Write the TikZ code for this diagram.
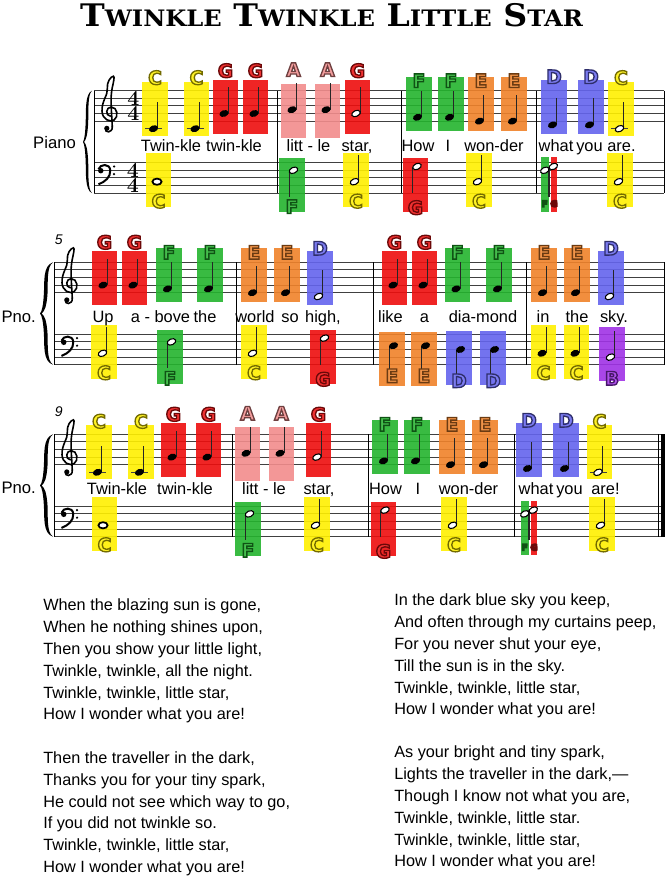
\documentclass[tikz,border=0pt]{standalone}
\usepackage{fontspec}
\usepackage{xcolor}
\usepackage{tikz}
\usepackage{graphicx}

\newfontfamily\lyricfont{Liberation Sans}
\newfontfamily\labelfont{DejaVu Sans}
\newfontfamily\titlefont{DejaVu Serif}

\definecolor{noteC}{RGB}{255,240,0}
\definecolor{noteD}{RGB}{100,100,238}
\definecolor{noteE}{RGB}{240,130,42}
\definecolor{noteF}{RGB}{36,180,46}
\definecolor{noteG}{RGB}{238,14,14}
\definecolor{noteA}{RGB}{242,140,140}
\definecolor{noteB}{RGB}{160,50,230}
% rim colours of the letters, as pdf rgb
\newcommand\edgeC{0.45 0.42 0}
\newcommand\edgeD{0.18 0.18 0.42}
\newcommand\edgeE{0.42 0.23 0.07}
\newcommand\edgeF{0.06 0.32 0.08}
\newcommand\edgeG{0.42 0.03 0.03}
\newcommand\edgeA{0.43 0.25 0.25}
\newcommand\edgeB{0.28 0.09 0.41}

% treble data: head y, box top, label y (px below top staff line)
\newcommand\trebHeadC{38}   \newcommand\trebTopC{-9}  \newcommand\trebLabC{-13} \newcommand\trebLedC{1}
\newcommand\trebHeadD{34.2} \newcommand\trebTopD{-11} \newcommand\trebLabD{-14} \newcommand\trebLedD{0}
\newcommand\trebHeadE{30.4} \newcommand\trebTopE{-14} \newcommand\trebLabE{-10} \newcommand\trebLedE{0}
\newcommand\trebHeadF{26.6} \newcommand\trebTopF{-14} \newcommand\trebLabF{-10} \newcommand\trebLedF{0}
\newcommand\trebHeadG{22.8} \newcommand\trebTopG{-11} \newcommand\trebLabG{-20} \newcommand\trebLedG{0}
\newcommand\trebHeadA{19}   \newcommand\trebTopA{-7}  \newcommand\trebLabA{-21} \newcommand\trebLedA{0}
% bass data: head y, box top, label y, stem direction
\newcommand\bassHeadC{91}   \newcommand\bassTopC{62.5} \newcommand\bassLabC{110.5} \newcommand\bassDirC{1}
\newcommand\bassHeadD{87.2} \newcommand\bassTopD{68.7} \newcommand\bassLabD{118.5} \newcommand\bassDirD{-1}
\newcommand\bassHeadE{83.4} \newcommand\bassTopE{69.7} \newcommand\bassLabE{113.5} \newcommand\bassDirE{-1}
\newcommand\bassHeadF{79.6} \newcommand\bassTopF{67.5} \newcommand\bassLabF{116}   \newcommand\bassDirF{-1}
\newcommand\bassHeadG{75.8} \newcommand\bassTopG{67.5} \newcommand\bassLabG{117}   \newcommand\bassDirG{-1}
\newcommand\bassHeadB{94.8} \newcommand\bassTopB{64.7} \newcommand\bassLabB{116}   \newcommand\bassDirB{1}

\tikzset{
  staffline/.style={gray!50!black, line width=0.75pt},
  barline/.style={black, line width=0.75pt},
  stemline/.style={black!85, line width=0.8pt},
  notebox/.style={opacity=0.9},
  letterbase/.style={inner sep=0pt, font=\labelfont\bfseries\fontsize{14}{14}\selectfont},
  tinyletter/.style={inner sep=0pt, font=\labelfont\bfseries\fontsize{6.5}{6.5}\selectfont},
  lyric/.style={inner sep=0pt, anchor=base, font=\lyricfont\fontsize{12.3}{12.3}\selectfont},
  verse/.style={inner sep=0pt, anchor=base west, font=\lyricfont\fontsize{12.2}{12.2}\selectfont},
  instr/.style={inner sep=0pt, font=\lyricfont\fontsize{12.5}{12.5}\selectfont},
  barnum/.style={inner sep=0pt, font=\lyricfont\itshape\fontsize{10.5}{10.5}\selectfont},
  tsig/.style={inner sep=0pt, align=center, font=\fontsize{16}{11.4}\selectfont\bfseries},
  gclef/.pic={
    \begin{scope}[xscale=7.6, yscale=-7.6, line width=1.2pt, line cap=round]
      \draw (0.3,-1.75) .. controls (0.2,0.5) and (0.0,2.0) .. (0.3,3.4)
        .. controls (0.45,4.1) and (0.65,4.9) .. (0.45,4.9)
        .. controls (0.1,4.9) and (-0.45,4.1) .. (-0.35,3.3)
        .. controls (-0.25,2.4) and (-1.1,1.7) .. (-1.05,0.3)
        .. controls (-1.0,-0.8) and (0.0,-1.2) .. (0.55,-0.85)
        .. controls (1.15,-0.45) and (1.0,0.85) .. (0.15,0.85)
        .. controls (-0.55,0.85) and (-0.65,-0.3) .. (0.05,-0.35);
      \draw (0.3,-1.75) .. controls (0.35,-2.6) and (-0.75,-2.6) .. (-0.6,-1.95);
      \fill (-0.42,-1.95) circle (0.34);
    \end{scope}
  },
  fclef/.pic={
    \begin{scope}[xscale=7.6, yscale=-7.6]
      \fill (0.1,-0.05) circle (0.36);
      \draw[line width=1.5pt] (-0.2,0.15) .. controls (0.0,0.85) and (1.3,0.95) .. (1.35,0.0)
        .. controls (1.4,-0.9) and (0.7,-1.5) .. (-0.2,-1.85);
      \fill (1.85,0.5) circle (0.16) (1.85,-0.5) circle (0.16);
    \end{scope}
  }
}

\newcounter{notecount}

\newcommand{\staves}[2]{%
  \foreach \k in {0,...,4} {
    \draw[staffline] (#1,{7.6*\k}) -- (#2,{7.6*\k});
    \draw[staffline] (#1,{72+7.6*\k}) -- (#2,{72+7.6*\k});
  }%
}

\newcommand{\grandbrace}[2]{%
  \begin{scope}[shift={(#1,0)}, xscale=#2, yscale=102.4]
    \fill (1,0) .. controls (0.2,0.03) and (0.35,0.2) .. (0.3,0.3)
      .. controls (0.25,0.42) and (0.15,0.48) .. (0,0.5)
      .. controls (0.15,0.52) and (0.25,0.58) .. (0.3,0.7)
      .. controls (0.35,0.8) and (0.2,0.97) .. (1,1)
      .. controls (0.5,0.96) and (0.62,0.8) .. (0.58,0.7)
      .. controls (0.52,0.57) and (0.35,0.52) .. (0.12,0.5)
      .. controls (0.35,0.48) and (0.52,0.43) .. (0.58,0.3)
      .. controls (0.62,0.2) and (0.5,0.04) .. (1,0) -- cycle;
  \end{scope}%
}

\newcommand{\stemq}[3]{\draw[stemline] (#1,#2) -- (#1,#3);}
\newcommand{\stemh}[3]{\draw[stemline] (#1,#2) -- (#1,#3);}
\newcommand{\stemw}[3]{}
\newcommand{\headq}[2]{\fill[rotate around={20:(#1,#2)}] (#1,#2) ellipse [x radius=4.7, y radius=3.3];}
\newcommand{\headh}[2]{\draw[line width=0.8pt, fill=white, rotate around={25:(#1,#2)}] (#1,#2) ellipse [x radius=4.5, y radius=2.9];}
\newcommand{\headw}[2]{\draw[line width=1.3pt, fill=white] (#1,#2) ellipse [x radius=4.6, y radius=3.1];}

\newcommand{\drawbox}[3]{%
  \fill[notebox, fill=note#3] ({#1-12.75},#2) rectangle ({#1+12.75},{#2+54});%
}

\newcommand{\drawhead}[4]{% x, head y, kind, stem direction
  \pgfmathsetmacro{\nbHx}{#1-1.5*(#4)}%
  \pgfmathsetmacro{\nbSx}{\nbHx+4.3*(#4)}%
  \pgfmathsetmacro{\nbEy}{#2-26.5*(#4)}%
  \csname stem#3\endcsname{\nbSx}{#2}{\nbEy}%
  \csname head#3\endcsname{\nbHx}{#2}%
}

% letter filled in one colour and stroked in another
\newcommand{\rimmed}[2]{%
  \special{pdf:literal direct 2 Tr 1 w #1 RG}#2\special{pdf:literal direct 0 Tr}}

\newcommand{\notelabel}[3]{% x, y, letter
  \stepcounter{notecount}%
  \edef\nbR{\csname edge#3\endcsname}%
  \node[letterbase, text=note#3!85!white] (lab\arabic{notecount}) at (#1,#2)
    {\rimmed{\nbR}{#3}};%
}

\newcommand{\tnote}[3]{% x, letter, kind
  \edef\nbT{\csname trebTop#2\endcsname}%
  \edef\nbY{\csname trebHead#2\endcsname}%
  \edef\nbL{\csname trebLab#2\endcsname}%
  \drawbox{#1}{\nbT}{#2}%
  \ifnum\csname trebLed#2\endcsname=1
    \draw[staffline] ({#1-10},\nbY) -- ({#1+7},\nbY);
  \fi
  \drawhead{#1}{\nbY}{#3}{1}%
  \notelabel{#1}{\nbL}{#2}%
}

\newcommand{\bnote}[3]{% x, letter, kind
  \edef\nbT{\csname bassTop#2\endcsname}%
  \edef\nbY{\csname bassHead#2\endcsname}%
  \edef\nbL{\csname bassLab#2\endcsname}%
  \edef\nbD{\csname bassDir#2\endcsname}%
  \drawbox{#1}{\nbT}{#2}%
  \drawhead{#1}{\nbY}{#3}{\nbD}%
  \notelabel{#1}{\nbL}{#2}%
}

\newcommand{\fgchord}[1]{% left edge of the pair
  \fill[notebox, fill=noteF] (#1,66.5) rectangle ({#1+8},121);
  \fill[notebox, fill=noteG] ({#1+9.5},66.5) rectangle ({#1+16},121);
  \draw[stemline] ({#1+8},75.8) -- ({#1+8},106);
  \headh{#1+3.8}{79.6}
  \headh{#1+12.3}{75.8}
  \node[tinyletter, text=noteF!85!white] (chF#1) at ({#1+3.6},113) {\rimmed{\edgeF}{F}};
  \node[tinyletter, text=noteG!85!white] (chG#1) at ({#1+13},113) {\rimmed{\edgeG}{G}};%
}

\newcommand\titlecap[1]{{\fontsize{17.5}{17.5}\selectfont #1}}

\begin{document}
\begin{tikzpicture}[x=0.75pt, y=-0.75pt]
  \fill[white] (0,0) rectangle (666,878);
  \useasboundingbox (0,0) rectangle (666,878);

  \node[inner sep=0pt] (title) at (331.5,15) {\resizebox{377pt}{17.3pt}{\titlefont\bfseries\fontsize{24}{24}\selectfont
    T\titlecap{WINKLE} T\titlecap{WINKLE} L\titlecap{ITTLE} S\titlecap{TAR}}};

  % system 1
  \begin{scope}[shift={(0,90.7)}]
    \staves{94}{664}
    \foreach \x in {94,277.3,401.3,536.3,664}
      \draw[barline] (\x,0) -- (\x,102.4);
    \grandbrace{83}{9}
    \pic at (110,22.8) {gclef};
    \pic at (100,79.6) {fclef};
    \node[tsig] (tsTreble) at (133.5,15.2) {4\\4};
    \node[tsig] (tsBass) at (133,87.2) {4\\4};
    \node[instr] (piano) at (54.5,52.3) {Piano};
    \foreach \x/\n/\k in {155/C/q, 196.5/C/q, 225.5/G/q, 255.5/G/q, 293.5/A/q, 327.5/A/q,
        357.5/G/h, 419/F/q, 451/F/q, 481/E/q, 514/E/q, 554/D/q, 591/D/q, 621/C/h}
      \tnote{\x}{\n}{\k};
    \foreach \x/\n/\k in {158.5/C/w, 292/F/h, 356/C/h, 415.5/G/h, 479/C/h, 620/C/h}
      \bnote{\x}{\n}{\k};
    \fgchord{541}
    \foreach \x/\w [count=\i] in {171/Twin-kle, 234/twin-kle, 308.5/litt - le, 357/{star,},
        418/How, 448/I, 494/won-der, 556/what, 589.5/you, 621.5/are.}
      \node[lyric] (lyrA\i) at (\x,60.5) {\w};
  \end{scope}

  % system 2
  \begin{scope}[shift={(0,262.3)}]
    \staves{54}{664.7}
    \foreach \x in {54,236,373.7,526.3,664.7}
      \draw[barline] (\x,0) -- (\x,102.4);
    \grandbrace{40}{13}
    \pic at (70,22.8) {gclef};
    \pic at (63,79.6) {fclef};
    \node[instr] (pnoB) at (18.7,54.4) {Pno.};
    \node[barnum] (numB) at (58.7,-22.3) {5};
    \foreach \x/\n/\k in {104.5/G/q, 134.5/G/q, 169/F/q, 210/F/q, 254/E/q, 287/E/q, 320/D/h,
        394.5/G/q, 424.5/G/q, 457.5/F/q, 499/F/q, 544/E/q, 577/E/q, 611/D/h}
      \tnote{\x}{\n}{\k};
    \foreach \x/\n/\k in {104/C/h, 170/F/h, 254/C/h, 323/G/h, 392/E/q, 424/E/q, 459/D/q,
        493/D/q, 543.5/C/q, 576.5/C/q, 612/B/h}
      \bnote{\x}{\n}{\k};
    \foreach \x/\w [count=\i] in {103/Up, 160.5/a - bove, 205/the, 255/world, 290/so, 323/{high,},
        390.5/like, 424.5/a, 483/dia-mond, 543/in, 577/the, 614/sky.}
      \node[lyric] (lyrB\i) at (\x,60.5) {\w};
  \end{scope}

  % system 3
  \begin{scope}[shift={(0,434.3)}]
    \staves{54}{664.7}
    \foreach \x in {54,232.3,368.7,514,658}
      \draw[barline] (\x,0) -- (\x,102.4);
    \fill (661.3,0) rectangle (664.7,102.4);
    \grandbrace{40}{13}
    \pic at (70,22.8) {gclef};
    \pic at (63,79.6) {fclef};
    \node[instr] (pnoC) at (18.7,54) {Pno.};
    \node[barnum] (numC) at (58.7,-22.6) {9};
    \foreach \x/\n/\k in {99/C/q, 141/C/q, 173.5/G/q, 208.5/G/q, 247.5/A/q, 281.5/A/q, 318.5/G/h,
        385/F/q, 417/F/q, 452/E/q, 485/E/q, 529/D/q, 566/D/q, 599.5/C/h}
      \tnote{\x}{\n}{\k};
    \foreach \x/\n/\k in {104.5/C/w, 248/F/h, 317/C/h, 383.5/G/h, 454/C/h, 602/C/h}
      \bnote{\x}{\n}{\k};
    \fgchord{521}
    \foreach \x/\w [count=\i] in {117/Twin-kle, 185/twin-kle, 264/litt - le, 319/{star,},
        385.5/How, 418/I, 468.5/won-der, 536/what, 569.5/you, 605.5/are!}
      \node[lyric] (lyrC\i) at (\x,60.5) {\w};
  \end{scope}

  % verses
  \foreach \t [count=\i from 0] in {{When the blazing sun is gone,}, {When he nothing shines upon,},
      {Then you show your little light,}, {Twinkle, twinkle, all the night.},
      {Twinkle, twinkle, little star,}, {How I wonder what you are!}}
    \node[verse] (vsA\i) at (43,{610.7+21.85*\i}) {\t};
  \foreach \t [count=\i from 0] in {{Then the traveller in the dark,}, {Thanks you for your tiny spark,},
      {He could not see which way to go,}, {If you did not twinkle so.},
      {Twinkle, twinkle, little star,}, {How I wonder what you are!}}
    \node[verse] (vsB\i) at (43,{763.3+21.85*\i}) {\t};
  \foreach \t [count=\i from 0] in {{In the dark blue sky you keep,}, {And often through my curtains peep,},
      {For you never shut your eye,}, {Till the sun is in the sky.},
      {Twinkle, twinkle, little star,}, {How I wonder what you are!}}
    \node[verse] (vsC\i) at (394,{605.7+21.85*\i}) {\t};
  \foreach \t [count=\i from 0] in {{As your bright and tiny spark,}, {Lights the traveller in the dark,—},
      {Though I know not what you are,}, {Twinkle, twinkle, little star.},
      {Twinkle, twinkle, little star,}, {How I wonder what you are!}}
    \node[verse] (vsD\i) at (394,{757.7+21.85*\i}) {\t};
\end{tikzpicture}
\end{document}
